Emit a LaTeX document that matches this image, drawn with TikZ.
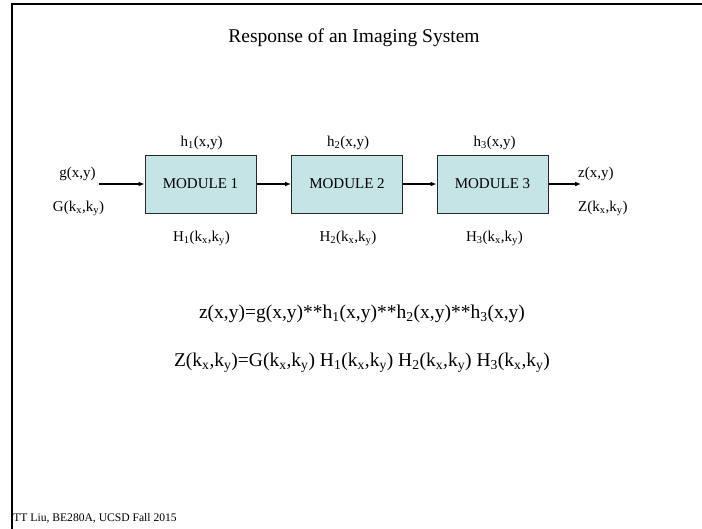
\documentclass[tikz,border=0pt]{standalone}
\usepackage{fontspec}
\setmainfont{Liberation Serif}
\usetikzlibrary{arrows.meta}
\definecolor{boxfill}{RGB}{196,228,230}
\definecolor{boxline}{RGB}{40,40,40}
\begin{document}
\begin{tikzpicture}[x=1pt,y=-1pt,
  module/.style={draw=boxline,line width=1pt,fill=boxfill,minimum width=111pt,minimum height=58pt,inner sep=0pt,font=\fontsize{15}{18}\selectfont},
  lbl/.style={anchor=base,inner sep=0pt,font=\fontsize{15}{18}\selectfont},
  eqn/.style={anchor=base,inner sep=0pt,font=\fontsize{19.5}{23}\selectfont},
  conn/.style={line width=1.2pt,-{Latex[length=6pt,width=5pt]}}]
\useasboundingbox (0,0) rectangle (702,528);
\fill[white] (0,0) rectangle (702,528);
% frame
\draw[line width=1.8pt,line cap=rect] (11.8,528) -- (11.8,4.3) -- (702,4.3);
% title
\node[eqn] (title) at (354,42) {Response of an Imaging System};
% modules
\node[module] (m1) at (200.5,184) {MODULE 1};
\node[module] (m2) at (347,184) {MODULE 2};
\node[module] (m3) at (492.5,184) {MODULE 3};
% arrows
\coordinate (in) at (99,184);
\coordinate (out) at (581,184);
\draw[conn] (in) -- (m1.west);
\draw[conn] (m1.east) -- (m2.west);
\draw[conn] (m2.east) -- (m3.west);
\draw[conn] (m3.east) -- (out);
% labels
\node[lbl] (g) at (77.5,177) {g(x,y)};
\node[lbl] (G) at (78.5,211) {G(k\textsubscript{x},k\textsubscript{y})};
\node[lbl,anchor=base west] (z) at (578,177) {z(x,y)};
\node[lbl,anchor=base west] (Z) at (578,211) {Z(k\textsubscript{x},k\textsubscript{y})};
\node[lbl] (h1) at (201.5,146) {h\textsubscript{1}(x,y)};
\node[lbl] (h2) at (348,146) {h\textsubscript{2}(x,y)};
\node[lbl] (h3) at (494.5,146) {h\textsubscript{3}(x,y)};
\node[lbl] (H1) at (201.5,241) {H\textsubscript{1}(k\textsubscript{x},k\textsubscript{y})};
\node[lbl] (H2) at (348,241) {H\textsubscript{2}(k\textsubscript{x},k\textsubscript{y})};
\node[lbl] (H3) at (494.5,241) {H\textsubscript{3}(k\textsubscript{x},k\textsubscript{y})};
% equations
\node[eqn] (eq1) at (362,318) {z(x,y)=g(x,y)**h\textsubscript{1}(x,y)**h\textsubscript{2}(x,y)**h\textsubscript{3}(x,y)};
\node[eqn] (eq2) at (362,366) {Z(k\textsubscript{x},k\textsubscript{y})=G(k\textsubscript{x},k\textsubscript{y}) H\textsubscript{1}(k\textsubscript{x},k\textsubscript{y}) H\textsubscript{2}(k\textsubscript{x},k\textsubscript{y}) H\textsubscript{3}(k\textsubscript{x},k\textsubscript{y})};
% footer
\node[anchor=base west,inner sep=0pt,font=\fontsize{11.6}{14}\selectfont] (foot) at (13.2,521) {TT Liu, BE280A, UCSD Fall 2015};
\end{tikzpicture}
\end{document}
